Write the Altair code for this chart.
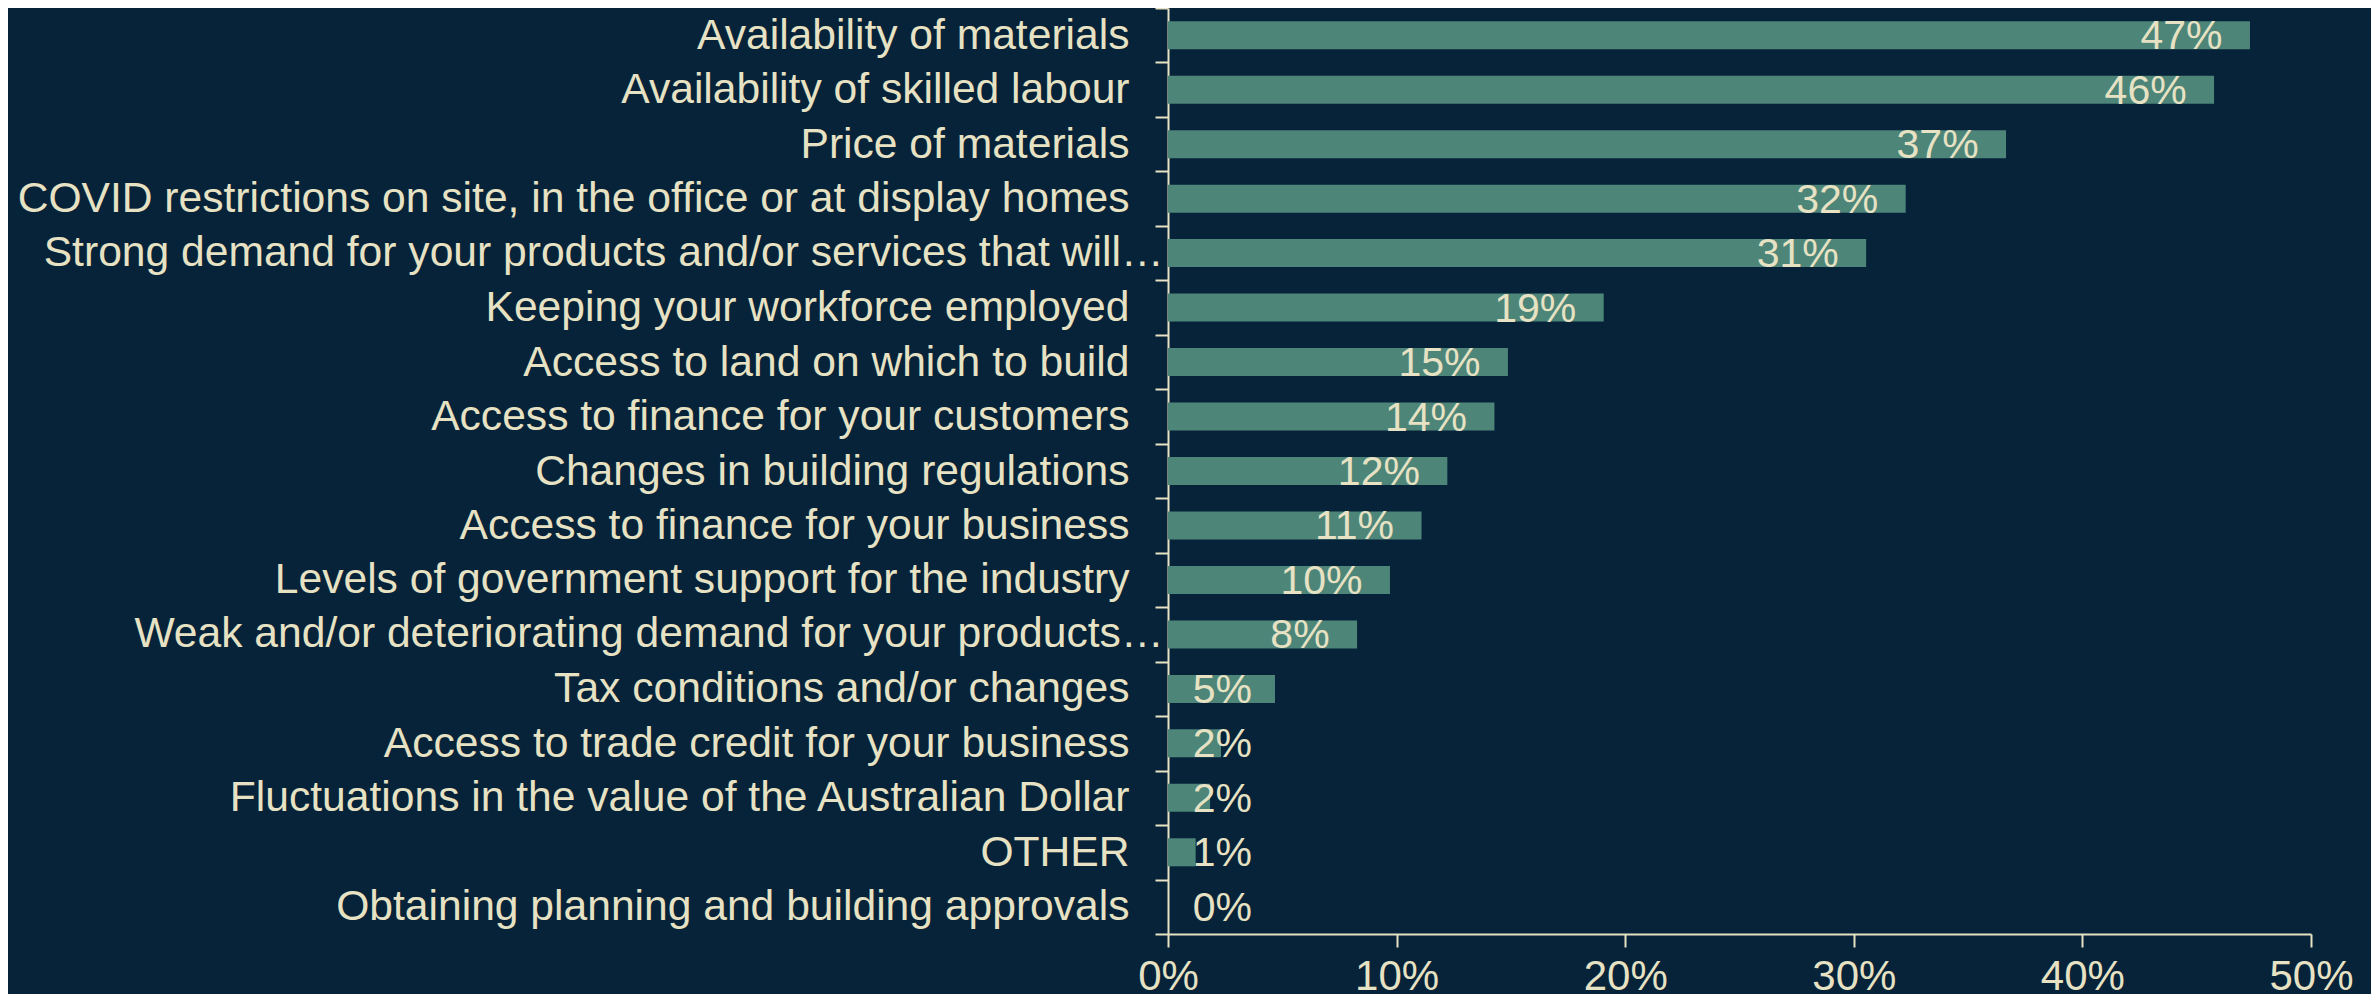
import altair as alt
import pandas as pd

categories = [
    "Availability of materials",
    "Availability of skilled labour",
    "Price of materials",
    "COVID restrictions on site, in the office or at display homes",
    "Strong demand for your products and/or services that will…",
    "Keeping your workforce employed",
    "Access to land on which to build",
    "Access to finance for your customers",
    "Changes in building regulations",
    "Access to finance for your business",
    "Levels of government support for the industry",
    "Weak and/or deteriorating demand for your products…",
    "Tax conditions and/or changes",
    "Access to trade credit for your business",
    "Fluctuations in the value of the Australian Dollar",
    "OTHER",
    "Obtaining planning and building approvals",
]
values = [0.4733, 0.4576, 0.3666, 0.3227, 0.3054, 0.1906, 0.1487, 0.1428,
          0.1222, 0.1109, 0.0971, 0.0827, 0.0468, 0.0232, 0.0184, 0.0121, 0.0]
x_ticks = [0, 0.1, 0.2, 0.3, 0.4, 0.5]

df = pd.DataFrame({"category": categories, "value": values})

BG = "#06233a"
BAR = "#4e8579"
TXT = "#e6e2c3"
FONT = "Liberation Sans"
ELL = "\u2026"

x_scale = alt.Scale(domain=[0, 0.5], nice=False, zero=True)
y_scale = alt.Scale(paddingInner=0, paddingOuter=0)

# main y axis: normal labels, ticks at band boundaries, domain line
y_axis_main = alt.Axis(
    title=None, orient="left",
    domainColor=TXT, domainWidth=2,
    ticks=True, tickBand="extent", tickSize=13, tickWidth=2, tickColor=TXT,
    labelFont=FONT, labelFontSize=42.6, labelColor=TXT, labelLimit=1300,
    labelPadding=26,
    labelExpr=f"indexof(datum.label, '{ELL}') >= 0 ? '' : datum.label",
    grid=False,
)
# second y axis: truncated labels sit closer to the axis
y_axis_trunc = alt.Axis(
    title=None, orient="left", domain=False,
    ticks=True, tickSize=13, tickOpacity=0,
    labelFont=FONT, labelFontSize=42.6, labelColor=TXT, labelLimit=1300,
    labelPadding=-8,
    labelExpr=f"indexof(datum.label, '{ELL}') >= 0 ? datum.label : ''",
    grid=False,
)
x_axis = alt.Axis(
    title=None, values=x_ticks, format=".0%",
    domainColor=TXT, domainWidth=2,
    tickSize=13, tickWidth=2, tickColor=TXT,
    labelFont=FONT, labelFontSize=42, labelColor=TXT, labelPadding=9,
    labelFlush=False, grid=False,
)

bars = alt.Chart(df).mark_bar(color=BAR, size=28).encode(
    x=alt.X("value:Q", scale=x_scale, axis=x_axis),
    y=alt.Y("category:N", sort=categories, scale=y_scale, axis=y_axis_main),
)

labels = alt.Chart(df).transform_calculate(
    pos="max(datum.value - 0.012, 0.0367)"
).mark_text(
    align="right", baseline="middle", font=FONT, fontSize=41, color=TXT, dy=2
).encode(
    x=alt.X("pos:Q", scale=x_scale, axis=x_axis),
    y=alt.Y("category:N", sort=categories, scale=y_scale, axis=y_axis_trunc),
    text=alt.Text("value:Q", format=".0%"),
)

chart = alt.layer(bars, labels).resolve_axis(y="independent").properties(
    width=1143, height=926,
    autosize=alt.AutoSizeParams(type="none"),
    padding={"left": 1160, "top": 0, "right": 60, "bottom": 60},
).configure(background=BG).configure_view(stroke=None)

chart.save("out.html", embed_options={"renderer": "svg", "actions": False})
